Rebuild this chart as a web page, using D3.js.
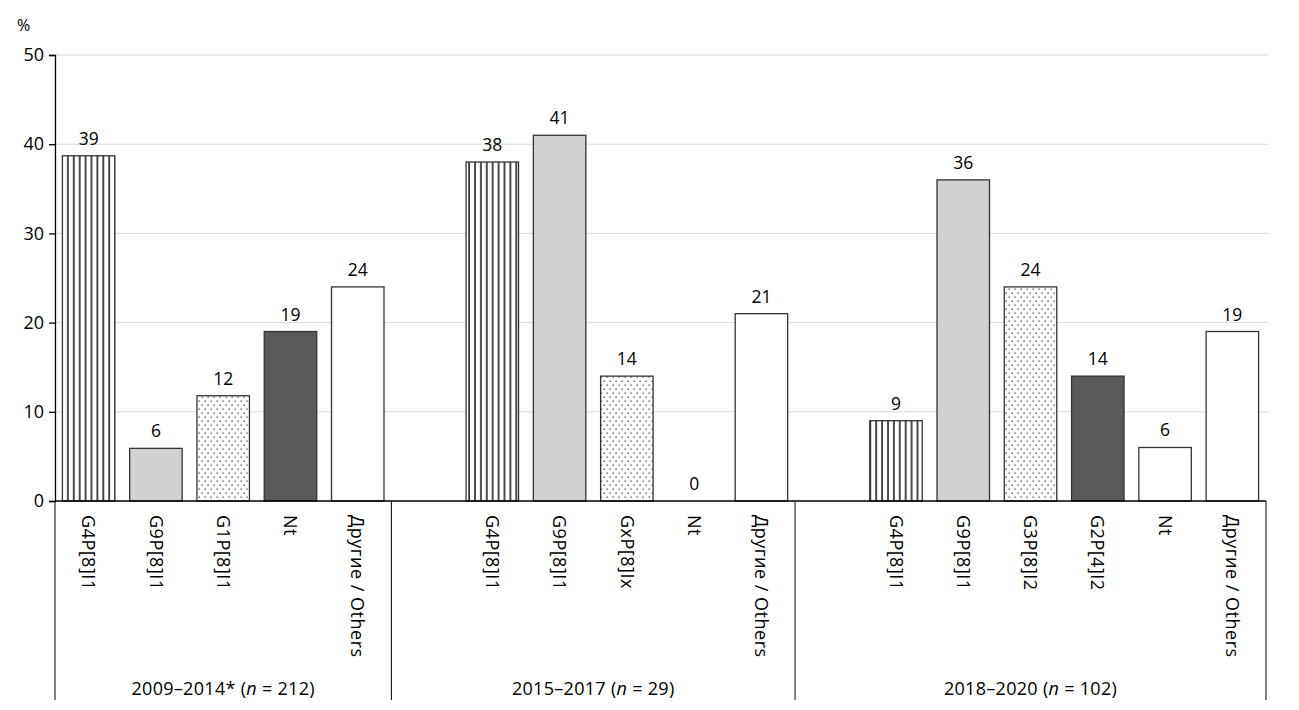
<!DOCTYPE html>
<html>
<head>
<meta charset="utf-8">
<script src="https://cdn.jsdelivr.net/npm/d3@7"></script>
<style>
  body { margin: 0; background: #fff; }
  text { font-family: "Open Sans", "Noto Sans", sans-serif; fill: #000; }
</style>
</head>
<body>
<div id="chart"></div>
<script>
const width = 1299;
const height = 710;

// periods and sample sizes
const groups = ["2009–2014*", "2015–2017", "2018–2020"];
const groupN = [212, 29, 102];

const genotypes = [
    ["G4P[8]I1", "G9P[8]I1", "G1P[8]I1", "Nt", "Другие / Others"],
    ["G4P[8]I1", "G9P[8]I1", "GxP[8]Ix", "Nt", "Другие / Others"],
    ["G4P[8]I1", "G9P[8]I1", "G3P[8]I2", "G2P[4]I2", "Nt", "Другие / Others"]
];
const values = [
    [38.7, 5.9, 11.8, 19, 24],
    [38, 41, 14, 0, 21],
    [9, 36, 24, 14, 6, 19]
];
const fills = [
    ["stripes", "lightgray", "dots", "darkgray", "white"],
    ["stripes", "lightgray", "dots", "darkgray", "white"],
    ["stripes", "lightgray", "dots", "darkgray", "white", "white"]
];
const yTicks = [0, 10, 20, 30, 40, 50];

// flatten into slots; groups after the first start with an empty slot
const slots = [];
groups.forEach((g, gi) => {
    if (gi > 0) slots.push({ key: `blank${gi}`, group: gi, blank: true });
    genotypes[gi].forEach((name, i) => {
        slots.push({ key: `${gi}-${i}`, group: gi, name: name, value: values[gi][i], fill: fills[gi][i] });
    });
});

const margin = { left: 55, right: 33, top: 55, bottom: 209 };
const plotBottom = height - margin.bottom;

const svg = d3.select("#chart")
    .append("svg")
    .attr("width", width)
    .attr("height", height);

const defs = svg.append("defs");

const stripes = defs.append("pattern")
    .attr("id", "stripes")
    .attr("patternUnits", "userSpaceOnUse")
    .attr("width", 5.9)
    .attr("height", 10);
stripes.append("rect").attr("width", 5.9).attr("height", 10).attr("fill", "#fff");
stripes.append("line")
    .attr("x1", 3).attr("x2", 3).attr("y1", 0).attr("y2", 10)
    .attr("stroke", "#000").attr("stroke-width", 1.4);

const dots = defs.append("pattern")
    .attr("id", "dots")
    .attr("patternUnits", "userSpaceOnUse")
    .attr("width", 6)
    .attr("height", 8);
dots.append("rect").attr("width", 6).attr("height", 8).attr("fill", "#fff");
dots.append("rect").attr("x", 0.5).attr("y", 0.5).attr("width", 1.3).attr("height", 1.3).attr("fill", "#444");
dots.append("rect").attr("x", 3.5).attr("y", 4.5).attr("width", 1.3).attr("height", 1.3).attr("fill", "#444");

const fillColor = {
    stripes: "url(#stripes)",
    dots: "url(#dots)",
    lightgray: "#d0d1d3",
    darkgray: "#59595c",
    white: "#fff"
};

const x = d3.scaleBand()
    .domain(slots.map(d => d.key))
    .range([margin.left, width - margin.right])
    .paddingInner(0.22)
    .paddingOuter(0.11);

const y = d3.scaleLinear()
    .domain([0, 50])
    .range([plotBottom, margin.top]);

// gridlines
svg.append("g")
    .selectAll("line")
    .data(yTicks.filter(t => t > 0))
    .enter().append("line")
    .attr("x1", margin.left)
    .attr("x2", width - margin.right + 2)
    .attr("y1", d => y(d))
    .attr("y2", d => y(d))
    .attr("stroke", "#d9d9d9")
    .attr("stroke-width", 1);

// y axis
const yAxis = svg.append("g")
    .attr("transform", `translate(${margin.left},0)`)
    .call(d3.axisLeft(y).tickValues(yTicks).tickSize(6).tickPadding(5));
yAxis.select(".domain").attr("stroke", "#000").attr("stroke-width", 1.3);
yAxis.selectAll(".tick line").attr("stroke", "#000").attr("stroke-width", 1.3);
yAxis.selectAll(".tick text")
    .attr("font-size", 18)
    .attr("font-family", "'Open Sans', sans-serif")
    .attr("fill", "#000");

svg.append("text")
    .attr("x", 17)
    .attr("y", 31)
    .attr("font-size", 16)
    .text("%");

// bars
const bars = slots.filter(d => !d.blank);

svg.append("g")
    .selectAll("rect")
    .data(bars.filter(d => d.value > 0))
    .enter().append("rect")
    .attr("x", d => x(d.key))
    .attr("y", d => y(d.value))
    .attr("width", x.bandwidth())
    .attr("height", d => y(0) - y(d.value))
    .attr("fill", d => fillColor[d.fill])
    .attr("stroke", "#333")
    .attr("stroke-width", 1.3);

// value labels
svg.append("g")
    .selectAll("text")
    .data(bars)
    .enter().append("text")
    .attr("x", d => x(d.key) + x.bandwidth() / 2)
    .attr("y", d => y(d.value) - 11)
    .attr("text-anchor", "middle")
    .attr("font-size", 17.5)
    .text(d => d3.format(".0f")(d.value));

// category labels (rotated)
svg.append("g")
    .selectAll("text")
    .data(bars)
    .enter().append("text")
    .attr("transform", d => `translate(${x(d.key) + x.bandwidth() / 2},${plotBottom + 14}) rotate(90)`)
    .attr("dy", "0.35em")
    .attr("text-anchor", "start")
    .attr("font-size", 18)
    .attr("letter-spacing", 0.5)
    .text(d => d.name);

// baseline
svg.append("line")
    .attr("x1", margin.left)
    .attr("x2", width - margin.right)
    .attr("y1", plotBottom)
    .attr("y2", plotBottom)
    .attr("stroke", "#000")
    .attr("stroke-width", 1.3);

// group separators
const step = x.step();
const groupBounds = groups.map((g, gi) => {
    const keys = slots.filter(d => d.group === gi).map(d => d.key);
    const x0 = x(keys[0]) - step * x.paddingInner() / 2 - (gi === 0 ? step * x.paddingOuter() - step * x.paddingInner() / 2 : 0);
    const x1 = x(keys[keys.length - 1]) + x.bandwidth() + step * x.paddingInner() / 2 +
        (gi === groups.length - 1 ? step * x.paddingOuter() - step * x.paddingInner() / 2 : 0);
    return [x0, x1];
});

const sepX = [groupBounds[0][0]].concat(groupBounds.map(b => b[1]));
svg.append("g")
    .selectAll("line")
    .data(sepX)
    .enter().append("line")
    .attr("x1", d => d)
    .attr("x2", d => d)
    .attr("y1", plotBottom)
    .attr("y2", height - 10)
    .attr("stroke", "#000")
    .attr("stroke-width", 1);

// group labels
const gl = svg.append("g")
    .selectAll("text")
    .data(groups)
    .enter().append("text")
    .attr("x", (d, i) => (groupBounds[i][0] + groupBounds[i][1]) / 2)
    .attr("y", 695)
    .attr("text-anchor", "middle")
    .attr("font-size", 18)
    .attr("letter-spacing", 0.3);
gl.append("tspan").text(d => d + " (");
gl.append("tspan").attr("font-style", "italic").text("n");
gl.append("tspan").text((d, i) => ` = ${groupN[i]})`);
</script>
</body>
</html>
